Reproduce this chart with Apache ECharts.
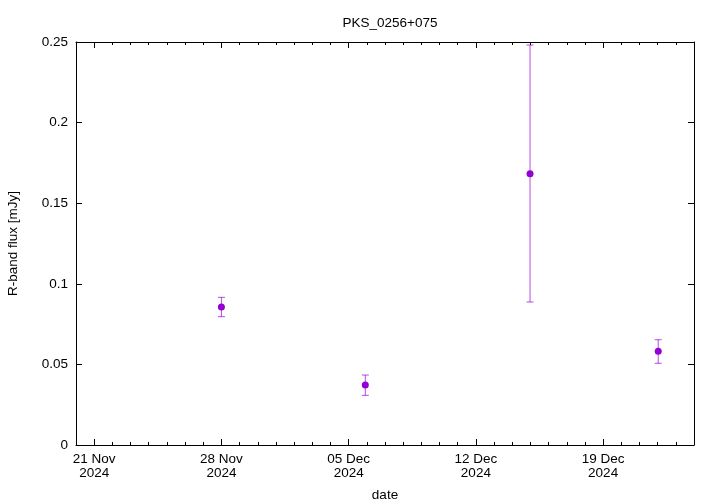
<!DOCTYPE html>
<html>
<head>
<meta charset="utf-8">
<script src="https://cdn.jsdelivr.net/npm/echarts@6/dist/echarts.min.js"></script>
<style>
  html, body { margin: 0; padding: 0; background: #fff; }
  #chart { width: 720px; height: 504px; }
</style>
</head>
<body>
<div id="chart"></div>
<script>
// observation dates (UTC) and R-band flux with error range
var obsDates = ['2024-11-28T00:00:00Z', '2024-12-05T22:00:00Z', '2024-12-14T23:30:00Z', '2024-12-22T00:45:00Z']
var flux = [0.0856, 0.0372, 0.1683, 0.0581]
var fluxLow = [0.0796, 0.0308, 0.0887, 0.0507]
var fluxHigh = [0.0916, 0.0434, 0.2481, 0.0653]
var majorTicks = ['2024-11-21', '2024-11-28', '2024-12-05', '2024-12-12', '2024-12-19']
var xStart = '2024-11-20'
var xEnd = '2024-12-24'

var DAY = 86400000
var MONTHS = ['Jan', 'Feb', 'Mar', 'Apr', 'May', 'Jun', 'Jul', 'Aug', 'Sep', 'Oct', 'Nov', 'Dec']
var color = '#9400d3'
var font = 'Liberation Sans, Arial, sans-serif'
var fs = 13.5

var xMin = Date.parse(xStart + 'T00:00:00Z')
var xMax = Date.parse(xEnd + 'T00:00:00Z')
var majorVals = majorTicks.map(function (d) { return Date.parse(d + 'T00:00:00Z') })
var minorVals = []
for (var t = xMin; t <= xMax; t += DAY) minorVals.push(t)

var points = obsDates.map(function (d, i) { return [Date.parse(d), flux[i]] })
var bars = obsDates.map(function (d, i) { return [Date.parse(d), fluxLow[i], fluxHigh[i]] })

function fmtDate(v) {
  var d = new Date(v)
  var dd = ('0' + d.getUTCDate()).slice(-2)
  return dd + ' ' + MONTHS[d.getUTCMonth()] + '\n' + d.getUTCFullYear()
}

function xAxisBase(pos, tickVals, len, showLine) {
  return {
    type: 'value', position: pos, min: xMin, max: xMax,
    splitLine: { show: false },
    axisLine: { show: showLine, onZero: false, lineStyle: { color: '#000', width: 1 } },
    axisTick: { show: true, inside: true, length: len, customValues: tickVals, lineStyle: { color: '#000' } },
    axisLabel: { show: false }
  }
}

var bottomMajor = xAxisBase('bottom', majorVals, 6, true)
bottomMajor.axisLabel = {
  show: true, customValues: majorVals, formatter: fmtDate,
  color: '#000', fontFamily: font, fontSize: fs, lineHeight: 14, margin: 7
}
bottomMajor.name = 'date'
bottomMajor.nameLocation = 'middle'
bottomMajor.nameGap = 43
bottomMajor.nameTextStyle = { color: '#000', fontFamily: font, fontSize: fs }

var chart = echarts.init(document.getElementById('chart'))
chart.setOption({
  animation: false,
  backgroundColor: '#fff',
  title: {
    text: 'PKS_0256+075', left: 385, top: 11, textAlign: 'center',
    textStyle: { color: '#000', fontFamily: font, fontSize: fs, fontWeight: 'normal' }
  },
  grid: { left: 76, right: 26, top: 42, bottom: 59, containLabel: false, outerBoundsMode: 'none' },
  xAxis: [
    bottomMajor,
    xAxisBase('bottom', minorVals, 3, false),
    xAxisBase('top', majorVals, 6, true),
    xAxisBase('top', minorVals, 3, false)
  ],
  yAxis: [
    {
      type: 'value', position: 'left', min: 0, max: 0.25, interval: 0.05,
      splitLine: { show: false },
      axisLine: { show: true, onZero: false, lineStyle: { color: '#000', width: 1 } },
      axisTick: { inside: true, length: 6, lineStyle: { color: '#000' } },
      axisLabel: { color: '#000', fontFamily: font, fontSize: fs, margin: 8 },
      name: 'R-band flux [mJy]', nameLocation: 'middle', nameGap: 56, nameRotate: 90,
      nameTextStyle: { color: '#000', fontFamily: font, fontSize: fs }
    },
    {
      type: 'value', position: 'right', min: 0, max: 0.25, interval: 0.05,
      splitLine: { show: false },
      axisLine: { show: true, onZero: false, lineStyle: { color: '#000', width: 1 } },
      axisTick: { inside: true, length: 6, lineStyle: { color: '#000' } },
      axisLabel: { show: false }
    }
  ],
  series: [
    {
      type: 'custom',
      xAxisIndex: 0, yAxisIndex: 0,
      encode: { x: 0, y: [1, 2] },
      data: bars,
      renderItem: function (params, api) {
        var x = api.value(0)
        var lo = api.coord([x, api.value(1)])
        var hi = api.coord([x, api.value(2)])
        var w = 3.5
        var st = { stroke: color, lineWidth: 1, opacity: 0.7 }
        return {
          type: 'group',
          children: [
            { type: 'line', shape: { x1: lo[0], y1: lo[1], x2: hi[0], y2: hi[1] }, style: st },
            { type: 'line', shape: { x1: lo[0] - w, y1: lo[1], x2: lo[0] + w, y2: lo[1] }, style: st },
            { type: 'line', shape: { x1: hi[0] - w, y1: hi[1], x2: hi[0] + w, y2: hi[1] }, style: st }
          ]
        }
      }
    },
    {
      type: 'scatter',
      xAxisIndex: 0, yAxisIndex: 0,
      symbol: 'circle', symbolSize: 7,
      itemStyle: { color: color, opacity: 1 },
      data: points,
      z: 5
    }
  ]
})
</script>
</body>
</html>
